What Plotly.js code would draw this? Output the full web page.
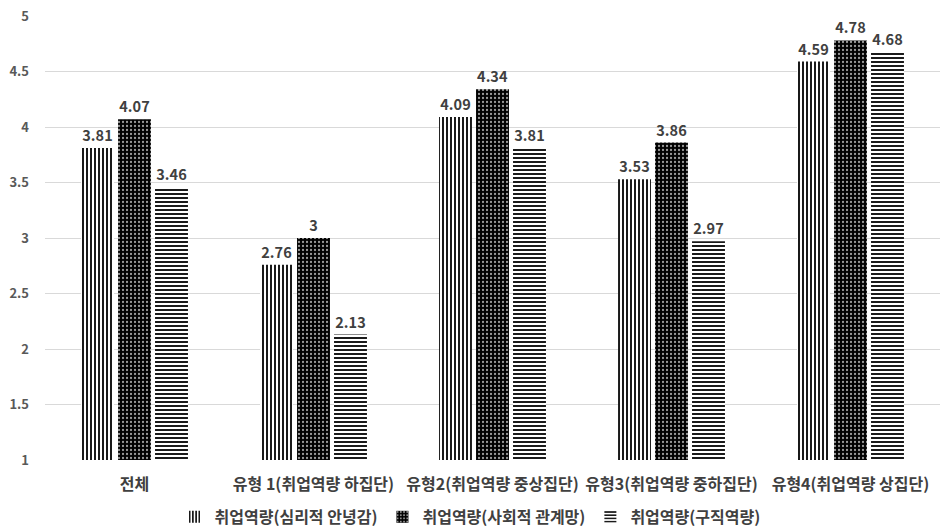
<!DOCTYPE html>
<html>
<head>
<meta charset="utf-8">
<script src="https://cdn.plot.ly/plotly-3.0.1.min.js"></script>
<style>html,body{margin:0;padding:0;background:#fff;}#chart{width:940px;height:528px;}</style>
</head>
<body>
<div id="chart"></div>
<script>
const categories = ['전체', '유형 1(취업역량 하집단)', '유형2(취업역량 중상집단)', '유형3(취업역량 중하집단)', '유형4(취업역량 상집단)'];
const seriesNames = ['취업역량(심리적 안녕감)', '취업역량(사회적 관계망)', '취업역량(구직역량)'];
const psychological = [3.81, 2.76, 4.09, 3.53, 4.59];
const social = [4.07, 3, 4.34, 3.86, 4.78];
const jobSeeking = [3.46, 2.13, 3.81, 2.97, 4.68];

const labelFont = {family: '"Noto Sans CJK KR", "Noto Sans", sans-serif', size: 14.5, color: '#404040', weight: 'bold'};

function bar(name, values, pattern) {
  return {
    type: 'bar', name: name, x: categories, y: values,
    base: 0,
    text: values.map(v => String(v)), textposition: 'outside', cliponaxis: false,
    textfont: labelFont,
    marker: {color: pattern.bg, line: {width: 0}, pattern: pattern.p},
    hoverinfo: 'skip'
  };
}

const traces = [
  bar(seriesNames[0], psychological, {bg: '#ffffff', p: {shape: '|', fgcolor: '#000000', bgcolor: '#ffffff', size: 4, solidity: 0.45, fillmode: 'replace'}}),
  bar(seriesNames[1], social, {bg: '#000000', p: {shape: '.', fgcolor: '#9a9a9a', bgcolor: '#000000', size: 4, solidity: 0.25, fillmode: 'replace'}}),
  bar(seriesNames[2], jobSeeking, {bg: '#ffffff', p: {shape: '-', fgcolor: '#000000', bgcolor: '#ffffff', size: 4, solidity: 0.45, fillmode: 'replace'}})
];

const layout = {
  width: 940, height: 528,
  margin: {l: 45, r: 0, t: 16, b: 68},
  paper_bgcolor: '#ffffff', plot_bgcolor: '#ffffff',
  barmode: 'group', bargap: 0.38, bargroupgap: 0.11,
  font: {family: '"Noto Sans CJK KR", "Noto Sans", sans-serif', size: 13, color: '#595959'},
  xaxis: {
    type: 'category', showgrid: false, zeroline: false, showline: false, ticks: '',
    tickfont: {family: '"Noto Sans CJK KR", sans-serif', size: 16, color: '#404040', weight: 'bold'},
    ticklabelstandoff: 13, automargin: false
  },
  yaxis: {
    range: [1, 5], dtick: 0.5, tick0: 1, showgrid: true, gridcolor: '#d9d9d9', gridwidth: 1,
    zeroline: false, showline: false, ticks: '',
    tickfont: {family: '"Noto Sans CJK KR", sans-serif', size: 13, color: '#595959', weight: 'bold'},
    ticklabelstandoff: 15, automargin: false
  },
  legend: {
    orientation: 'h', x: 0.5, xanchor: 'center', xref: 'container',
    y: 0.021, yanchor: 'middle', yref: 'container',
    font: {family: '"Noto Sans CJK KR", sans-serif', size: 16, color: '#404040', weight: 'bold'},
    itemwidth: 30, traceorder: 'normal'
  },
  showlegend: true
};

Plotly.newPlot('chart', traces, layout, {displayModeBar: false, staticPlot: true});
</script>
</body>
</html>
